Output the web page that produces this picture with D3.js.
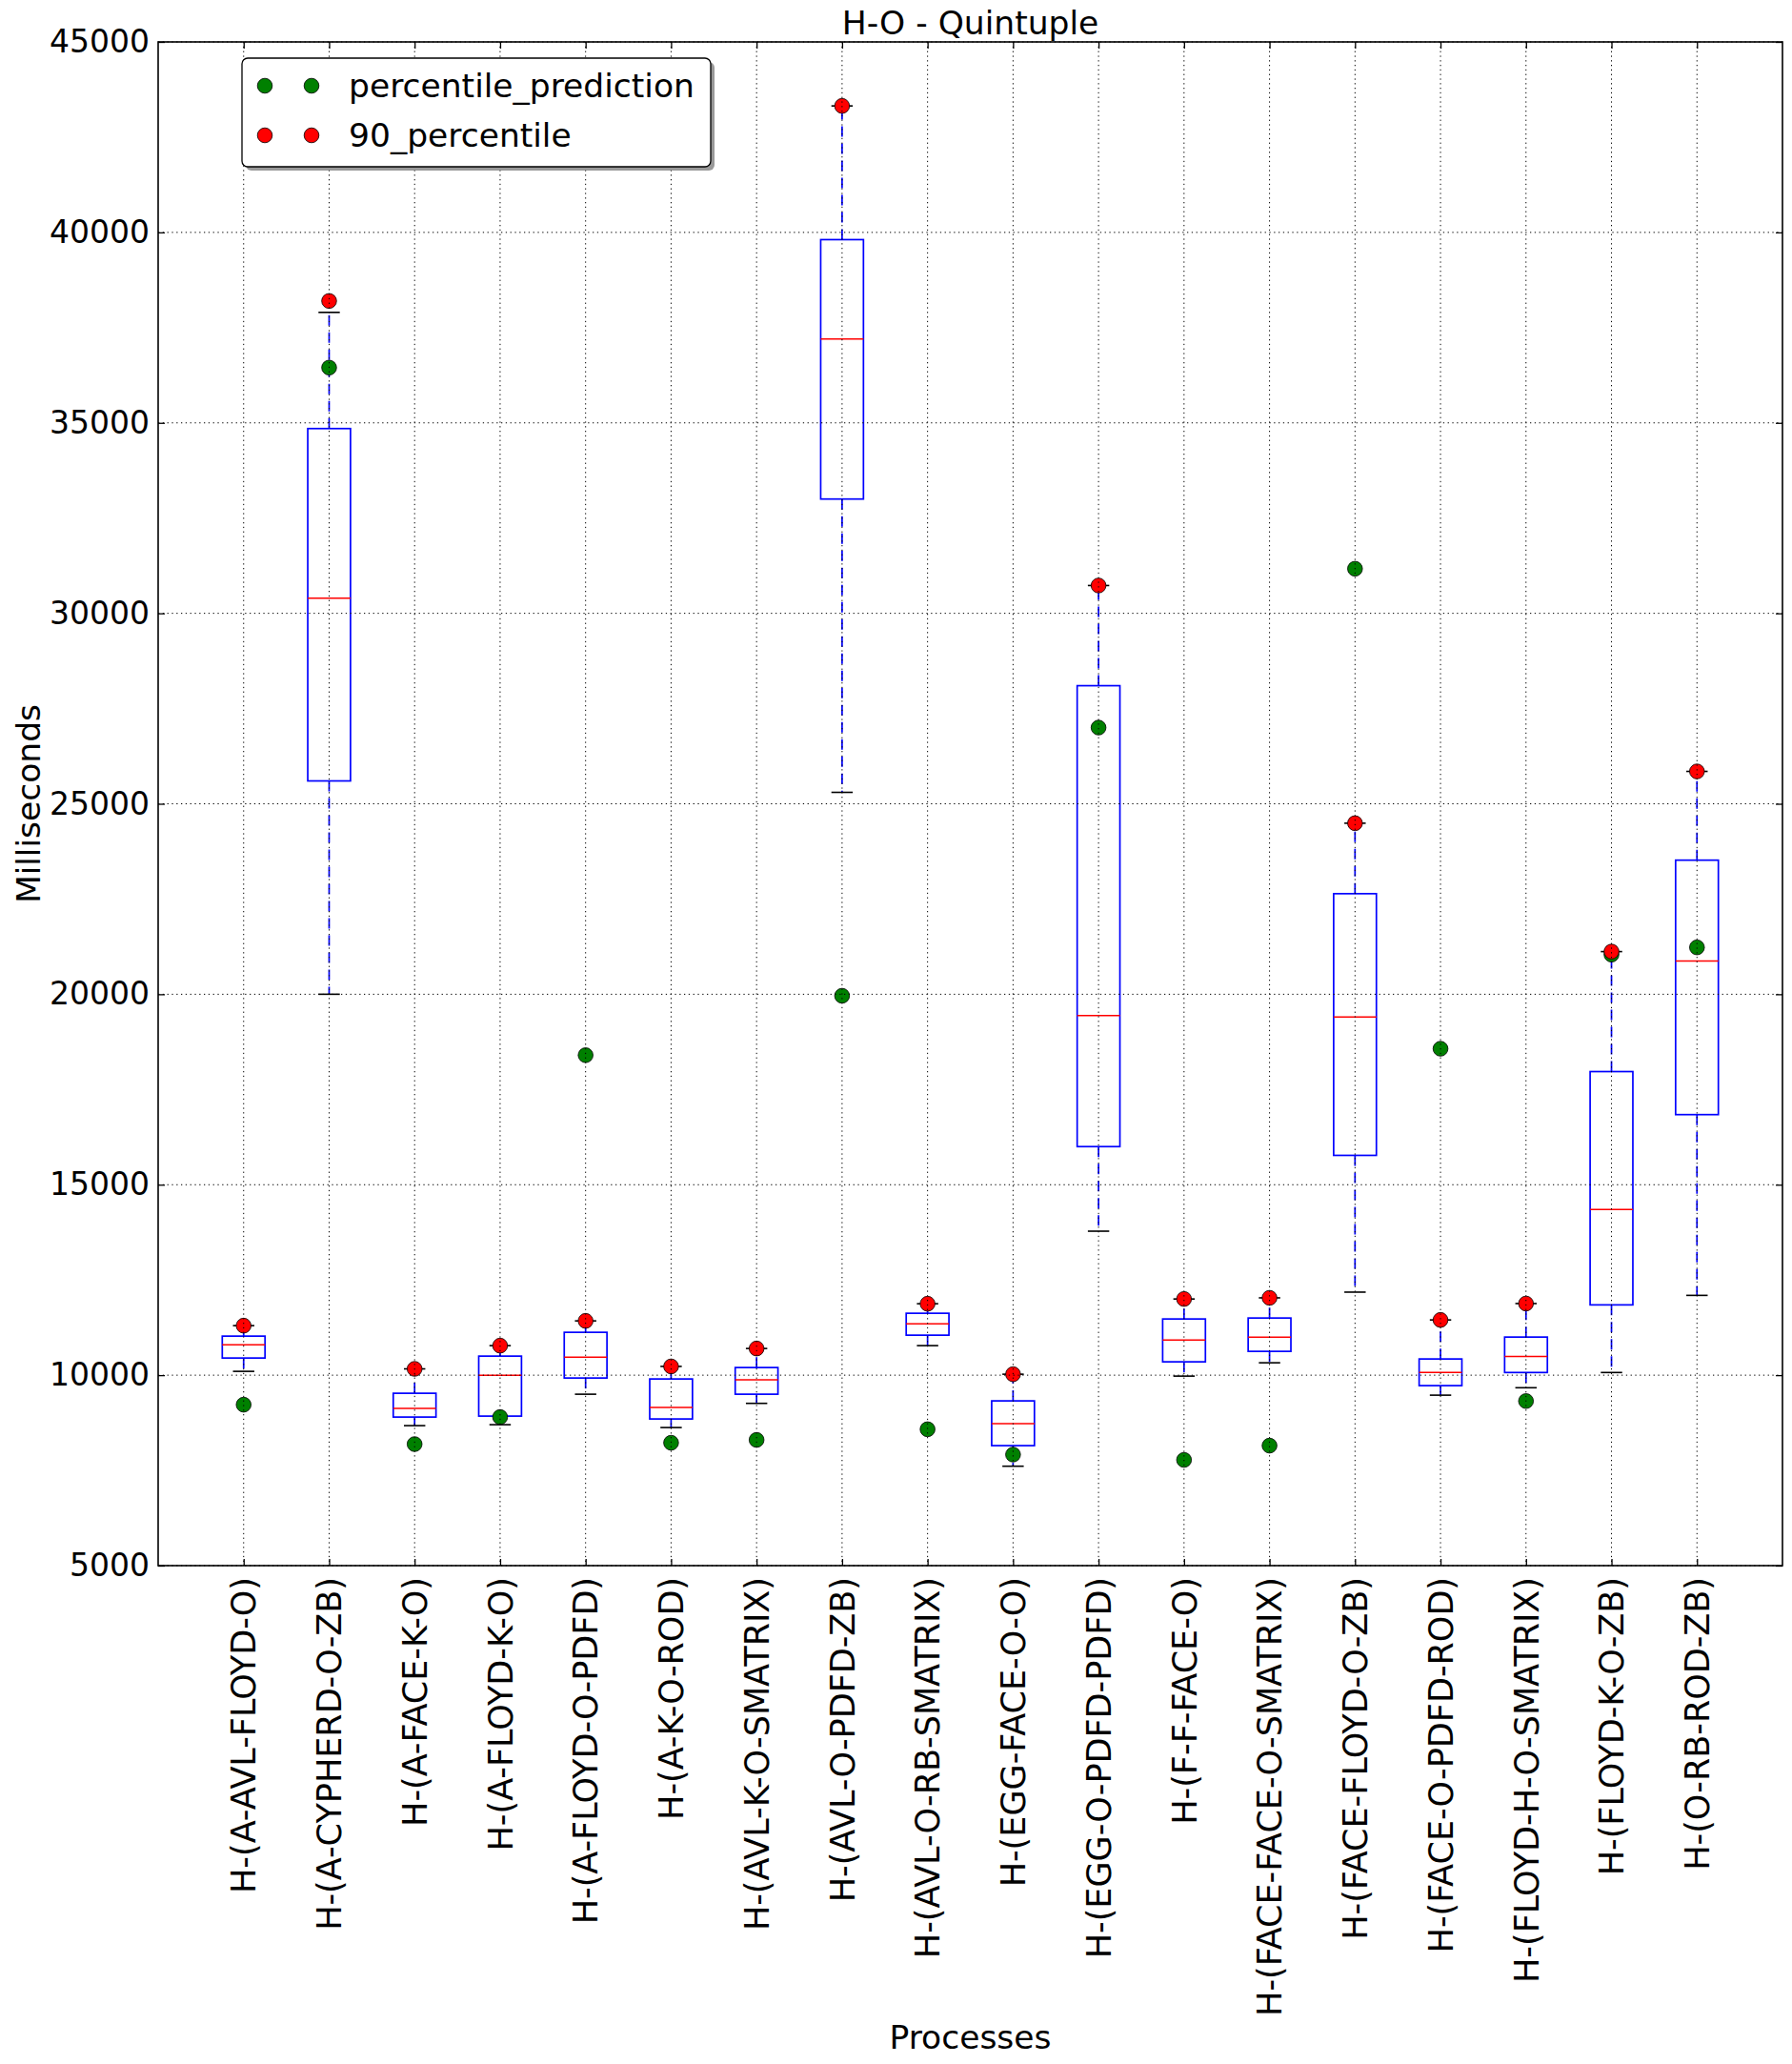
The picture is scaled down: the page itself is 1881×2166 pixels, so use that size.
<!DOCTYPE html>
<html>
<head>
<meta charset="utf-8">
<script src="https://cdn.jsdelivr.net/npm/d3@7/dist/d3.min.js"></script>
<style>
  html, body { margin: 0; padding: 0; background: #fff; }
  svg { display: block; }
  text { font-family: "DejaVu Sans", sans-serif; fill: #000; }
</style>
</head>
<body>
<script>
const categories = ["H-(A-AVL-FLOYD-O)", "H-(A-CYPHERD-O-ZB)", "H-(A-FACE-K-O)", "H-(A-FLOYD-K-O)",
  "H-(A-FLOYD-O-PDFD)", "H-(A-K-O-ROD)", "H-(AVL-K-O-SMATRIX)", "H-(AVL-O-PDFD-ZB)",
  "H-(AVL-O-RB-SMATRIX)", "H-(EGG-FACE-O-O)", "H-(EGG-O-PDFD-PDFD)", "H-(F-F-FACE-O)",
  "H-(FACE-FACE-O-SMATRIX)", "H-(FACE-FLOYD-O-ZB)", "H-(FACE-O-PDFD-ROD)", "H-(FLOYD-H-O-SMATRIX)",
  "H-(FLOYD-K-O-ZB)", "H-(O-RB-ROD-ZB)"];
const whiskerLow  = [10100, 20000, 8675, 8700, 9500, 8625, 9260, 25300, 10775, 7610, 13780, 9975, 10325, 12180, 9475, 9670, 10070, 12095];
const q1          = [10450, 25600, 8900, 8925, 9925, 8850, 9500, 33000, 11050, 8150, 16000, 10350, 10625, 15770, 9725, 10070, 11845, 16840];
const median      = [10800, 30400, 9125, 10000, 10475, 9150, 9875, 37200, 11350, 8725, 19440, 10925, 11000, 19400, 10075, 10490, 14350, 20870];
const q3          = [11025, 34850, 9525, 10500, 11125, 9900, 10200, 39810, 11625, 9325, 28100, 11475, 11500, 22640, 10425, 11000, 17970, 23520];
const whiskerHigh = [11300, 37900, 10165, 10775, 11425, 10230, 10700, 43320, 11875, 10025, 30730, 12000, 12030, 24490, 11450, 11880, 21120, 25850];
const percentile90 = [11300, 38200, 10165, 10775, 11425, 10230, 10700, 43320, 11875, 10025, 30730, 12000, 12030, 24490, 11450, 11880, 21120, 25850];
const prediction   = [9225, 36450, 8190, 8900, 18400, 8225, 8300, 19960, 8580, 7915, 27000, 7775, 8150, 31170, 18570, 9320, 21040, 21230];
const yTicks = [5000, 10000, 15000, 20000, 25000, 30000, 35000, 40000, 45000];
const chartTitle = "H-O - Quintuple";
const xLabel = "Processes";
const yLabel = "Milliseconds";
const seriesNames = ["percentile_prediction", "90_percentile"];

(function () {
const W = 1881, H = 2166;
const mLeft = 166, mRight = 1871, mTop = 44, mBottom = 1643;
const FS_Y = 33, FS_X = 35, FS_L = 34.5;

const svg = d3.select("body").append("svg").attr("width", W).attr("height", H);
const x = d3.scaleLinear().domain([0, categories.length + 1]).range([mLeft, mRight]);
const y = d3.scaleLinear().domain([5000, 45000]).range([mBottom, mTop]);
const step = x(1) - x(0);
const boxW = step * 0.5, capW = step * 0.25;
const R = 7.8;

const data = categories.map((c, i) => ({
  c, pos: i + 1, lo: whiskerLow[i], q1: q1[i], med: median[i], q3: q3[i], hi: whiskerHigh[i],
  p90: percentile90[i], pred: prediction[i]
}));

const g = svg.append("g");

// whiskers
g.selectAll(".wl").data(data).enter().append("line")
  .attr("x1", d => x(d.pos)).attr("x2", d => x(d.pos))
  .attr("y1", d => y(d.q1)).attr("y2", d => y(d.lo))
  .attr("stroke", "#0000ff").attr("stroke-width", 1.7).attr("stroke-dasharray", "11,7");
g.selectAll(".wh").data(data).enter().append("line")
  .attr("x1", d => x(d.pos)).attr("x2", d => x(d.pos))
  .attr("y1", d => y(d.q3)).attr("y2", d => y(d.hi))
  .attr("stroke", "#0000ff").attr("stroke-width", 1.7).attr("stroke-dasharray", "11,7");
// caps
["lo", "hi"].forEach(k => {
  g.selectAll(".cap" + k).data(data).enter().append("line")
    .attr("x1", d => x(d.pos) - capW / 2).attr("x2", d => x(d.pos) + capW / 2)
    .attr("y1", d => y(d[k])).attr("y2", d => y(d[k]))
    .attr("stroke", "#000").attr("stroke-width", 1.6);
});
// boxes
g.selectAll(".box").data(data).enter().append("rect")
  .attr("x", d => x(d.pos) - boxW / 2).attr("width", boxW)
  .attr("y", d => y(d.q3)).attr("height", d => y(d.q1) - y(d.q3))
  .attr("fill", "none").attr("stroke", "#0000ff").attr("stroke-width", 1.7);
// medians
g.selectAll(".med").data(data).enter().append("line")
  .attr("x1", d => x(d.pos) - boxW / 2).attr("x2", d => x(d.pos) + boxW / 2)
  .attr("y1", d => y(d.med)).attr("y2", d => y(d.med))
  .attr("stroke", "#ff0000").attr("stroke-width", 1.5);

// points
g.selectAll(".pred").data(data).enter().append("circle")
  .attr("cx", d => x(d.pos)).attr("cy", d => y(d.pred)).attr("r", R)
  .attr("fill", "#008000").attr("stroke", "#000").attr("stroke-width", 0.8);
g.selectAll(".p90").data(data).enter().append("circle")
  .attr("cx", d => x(d.pos)).attr("cy", d => y(d.p90)).attr("r", R)
  .attr("fill", "#ff0000").attr("stroke", "#000").attr("stroke-width", 0.8);

// grid (on top, classic style)
const grid = svg.append("g");
grid.selectAll(".gy").data(yTicks).enter().append("line")
  .attr("x1", mLeft).attr("x2", mRight).attr("y1", d => y(d)).attr("y2", d => y(d))
  .attr("stroke", "#000").attr("stroke-width", 1).attr("stroke-dasharray", "1.3,3.5");
grid.selectAll(".gx").data(data).enter().append("line")
  .attr("x1", d => x(d.pos)).attr("x2", d => x(d.pos)).attr("y1", mTop).attr("y2", mBottom)
  .attr("stroke", "#000").attr("stroke-width", 1).attr("stroke-dasharray", "1.3,3.5");

// axes with inward ticks
const yAxisL = d3.axisLeft(y).tickValues(yTicks).tickFormat(d3.format("d")).tickSizeInner(-7).tickSizeOuter(0).tickPadding(9);
const yAxisR = d3.axisRight(y).tickValues(yTicks).tickFormat("").tickSizeInner(-7).tickSizeOuter(0);
const xAxisB = d3.axisBottom(x).tickValues(data.map(d => d.pos)).tickFormat(v => categories[v - 1]).tickSizeInner(-7).tickSizeOuter(0).tickPadding(12);
const xAxisT = d3.axisTop(x).tickValues(data.map(d => d.pos)).tickFormat("").tickSizeInner(-7).tickSizeOuter(0);

const gl = svg.append("g").attr("transform", `translate(${mLeft},0)`).call(yAxisL);
const gr = svg.append("g").attr("transform", `translate(${mRight},0)`).call(yAxisR);
const gb = svg.append("g").attr("transform", `translate(0,${mBottom})`).call(xAxisB);
const gt = svg.append("g").attr("transform", `translate(0,${mTop})`).call(xAxisT);
[gl, gr, gb, gt].forEach(a => {
  a.select(".domain").remove();
  a.selectAll(".tick line").attr("stroke", "#000").attr("stroke-width", 1.3);
  a.selectAll("text").attr("font-family", "DejaVu Sans").attr("fill", "#000");
});
gl.selectAll("text").attr("font-size", FS_Y);
gb.selectAll(".tick text")
  .attr("font-size", FS_X)
  .attr("transform", "rotate(-90)")
  .attr("text-anchor", "end")
  .attr("x", -12).attr("y", 0).attr("dy", "0.35em");

// frame
svg.append("rect").attr("x", mLeft).attr("y", mTop).attr("width", mRight - mLeft).attr("height", mBottom - mTop)
  .attr("fill", "none").attr("stroke", "#000").attr("stroke-width", 1.6);

// title and labels
svg.append("text").attr("x", (mLeft + mRight) / 2).attr("y", 36).attr("text-anchor", "middle")
  .attr("font-size", 34.5).text(chartTitle);
svg.append("text").attr("x", (mLeft + mRight) / 2).attr("y", 2150).attr("text-anchor", "middle")
  .attr("font-size", FS_L).text(xLabel);
svg.append("text").attr("transform", `translate(42,${(mTop + mBottom) / 2}) rotate(-90)`).attr("text-anchor", "middle")
  .attr("font-size", FS_L).text(yLabel);

// legend
const lg = svg.append("g");
const lx = 254, ly = 61, lw = 492, lh = 114;
lg.append("rect").attr("x", lx + 4).attr("y", ly + 4).attr("width", lw).attr("height", lh).attr("rx", 6)
  .attr("fill", "#808080").attr("opacity", 0.8);
lg.append("rect").attr("x", lx).attr("y", ly).attr("width", lw).attr("height", lh).attr("rx", 6)
  .attr("fill", "#fff").attr("stroke", "#000").attr("stroke-width", 1.3);
const legColors = ["#008000", "#ff0000"];
seriesNames.forEach((name, i) => {
  const cy = ly + 29 + i * 52;
  [278, 327].forEach(cx => {
    lg.append("circle").attr("cx", cx).attr("cy", cy).attr("r", R)
      .attr("fill", legColors[i]).attr("stroke", "#000").attr("stroke-width", 0.8);
  });
  lg.append("text").attr("x", 366).attr("y", cy).attr("dy", "0.35em").attr("font-size", FS_L).text(name);
});
})();
</script>
</body>
</html>
